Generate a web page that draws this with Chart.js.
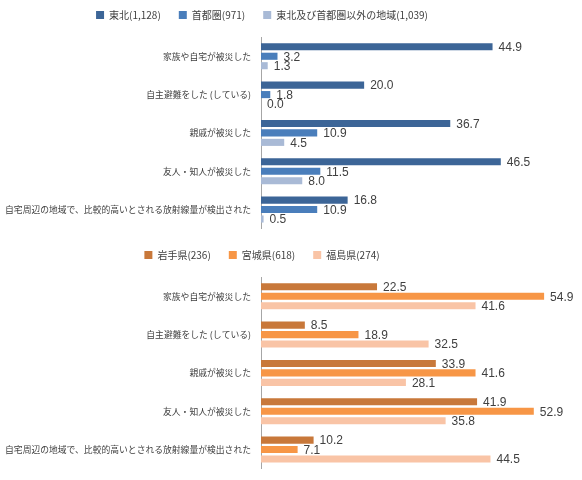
<!DOCTYPE html>
<html>
<head>
<meta charset="utf-8">
<script src="https://cdn.jsdelivr.net/npm/chart.js@4/dist/chart.umd.min.js"></script>
<style>
  html, body { margin: 0; padding: 0; background: #fff; overflow: hidden; }
  body { position: relative; width: 582px; height: 480px; }
  .box { position: absolute; left: 0; width: 582px; height: 252px; }
</style>
</head>
<body>
<div class="box" style="top:-8.5px"><canvas id="regionChart" width="582" height="252"></canvas></div>
<div class="box" style="top:231.5px"><canvas id="prefChart" width="582" height="252"></canvas></div>
<script>
const categories = [
  '家族や自宅が被災した',
  '自主避難をした (している)',
  '親戚が被災した',
  '友人・知人が被災した',
  '自宅周辺の地域で、比較的高いとされる放射線量が検出された'
];

const regionLabels = ['東北(1,128)', '首都圏(971)', '東北及び首都圏以外の地域(1,039)'];
const tohoku = [44.9, 20.0, 36.7, 46.5, 16.8];
const shutoken = [3.2, 1.8, 10.9, 11.5, 10.9];
const otherArea = [1.3, 0.0, 4.5, 8.0, 0.5];

const prefLabels = ['岩手県(236)', '宮城県(618)', '福島県(274)'];
const iwate = [22.5, 8.5, 33.9, 41.9, 10.2];
const miyagi = [54.9, 18.9, 41.6, 52.9, 7.1];
const fukushima = [41.6, 32.5, 28.1, 35.8, 44.5];

const jpFont = '"Noto Sans CJK JP", "Noto Sans", sans-serif';

// numbers at the end of each bar
const valueLabels = {
  id: 'valueLabels',
  afterDatasetsDraw(chart) {
    const ctx = chart.ctx;
    ctx.save();
    ctx.font = '12px "Liberation Sans", Arial, sans-serif';
    ctx.fillStyle = '#404040';
    ctx.textAlign = 'left';
    ctx.textBaseline = 'middle';
    chart.data.datasets.forEach((ds, i) => {
      chart.getDatasetMeta(i).data.forEach((bar, j) => {
        ctx.fillText(ds.data[j].toFixed(1), bar.x + 6, bar.y + 1);
      });
    });
    ctx.restore();
  }
};

const makeChart = (id, labels, series, colors) => {
  const ctx = document.getElementById(id).getContext('2d');
  return new Chart(ctx, {
    type: 'bar',
    data: {
      labels: categories,
      datasets: series.map((data, i) => ({
        label: labels[i],
        data: data,
        backgroundColor: colors[i],
        borderWidth: 0,
        clip: false,
        categoryPercentage: 0.74,
        barPercentage: 0.75
      }))
    },
    options: {
      indexAxis: 'y',
      responsive: false,
      animation: false,
      layout: { padding: { top: 0, left: 0, right: 58, bottom: 11.1 } },
      plugins: {
        legend: {
          position: 'top',
          labels: {
            boxWidth: 8,
            boxHeight: 8,
            padding: 18,
            color: '#404040',
            font: { family: jpFont, size: 10 }
          }
        },
        tooltip: { enabled: false }
      },
      scales: {
        x: {
          position: 'top',
          min: 0,
          max: 51,
          grid: { display: false, drawTicks: false },
          border: { display: false },
          ticks: { display: false },
          afterFit: s => { s.height = 7.1; }
        },
        y: {
          grid: { display: false, drawTicks: false },
          border: { display: true, color: '#a6a6a6', width: 1 },
          ticks: {
            padding: 10,
            autoSkip: false,
            color: '#404040',
            font: { family: jpFont, size: 8.8 }
          },
          afterFit: s => { s.width = 261; }
        }
      }
    },
    plugins: [valueLabels]
  });
};

makeChart('regionChart', regionLabels, [tohoku, shutoken, otherArea],
  ['#3c6597', '#4a7ebb', '#a9bad6']);
makeChart('prefChart', prefLabels, [iwate, miyagi, fukushima],
  ['#c8783a', '#f79646', '#f9c4a6']);
</script>
</body>
</html>
